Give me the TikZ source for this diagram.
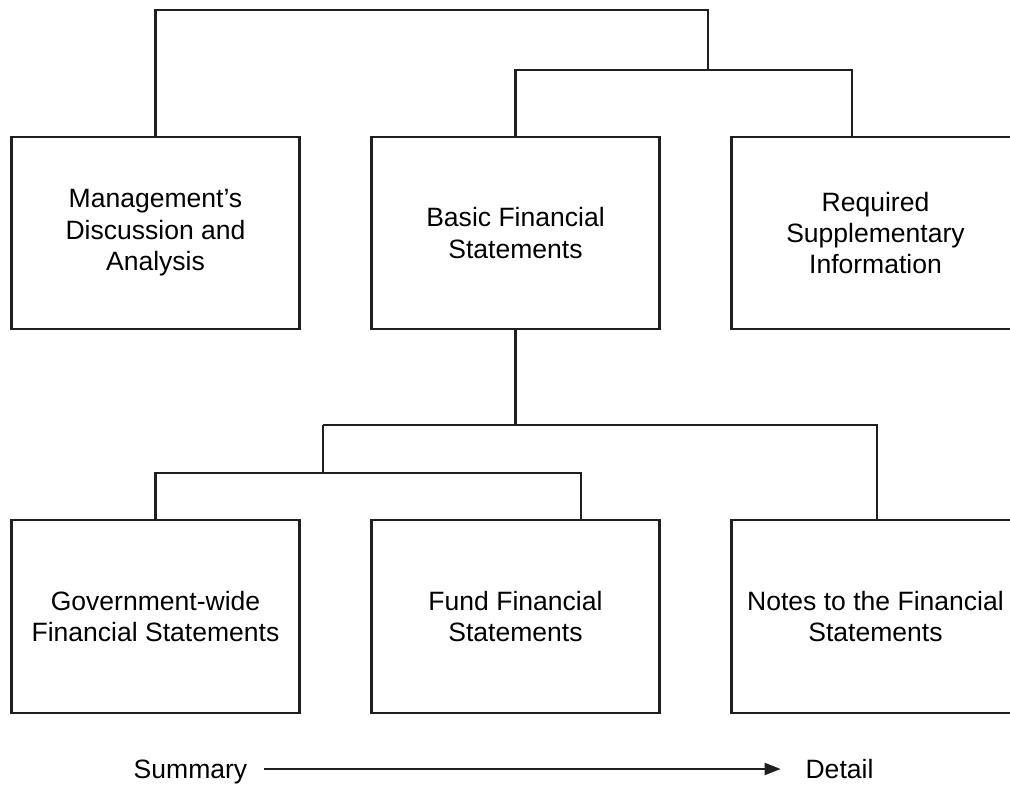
\documentclass[tikz,border=0pt]{standalone}
\usepackage{fontspec}
\setmainfont{Liberation Sans}
\usetikzlibrary{arrows.meta,positioning}

\begin{document}
\begin{tikzpicture}[x=0.75pt,y=-0.75pt,
    box/.style={draw=linecol,line width=1.6pt,minimum width=216pt,minimum height=144.5pt,
        align=center,inner sep=0pt,font=\fontsize{19.9}{23.6}\selectfont},
    link/.style={draw=linecol,line width=1.6pt},
    scalelabel/.style={font=\fontsize{19.9}{23.6}\selectfont,text height=14.25pt,text depth=0pt,inner sep=0pt}]
    \definecolor{linecol}{rgb}{0.12,0.12,0.12}
    \useasboundingbox (0,0) rectangle (1010,785);
    \clip (0,0) rectangle (1010,785);

    % upper row
    \node[box] (mda) at (155.5,233) {Management's\\Discussion and\\Analysis};
    \node[box] (bfs) at (515.5,233) {Basic Financial\\Statements};
    \node[box] (rsi) at (875.5,233) {Required\\Supplementary\\Information};

    % lower row
    \node[box] (gwfs) at (155.5,616.5) {Government-wide\\Financial Statements};
    \node[box] (ffs) at (515.5,616.5) {Fund Financial\\Statements};
    \node[box] (notes) at (875.5,616.5) {Notes to the Financial\\Statements};

    % junctions
    \coordinate (topbar) at (708,10);
    \coordinate (upper) at (708,70);
    \coordinate (rsiin) at (852,137);
    \coordinate (lower) at (515.5,425);
    \coordinate (left) at (323,425);
    \coordinate (leftbar) at (323,473);
    \coordinate (ffsin) at (581,520);
    \coordinate (notesin) at (877,520);

    \draw[link] (mda.north) |- (topbar) -- (upper);
    \draw[link] (bfs.north) |- (upper) -| (rsiin);
    \draw[link] (bfs.south) -- (lower);
    \draw[link] (left) -| (notesin);
    \draw[link] (left) -- (leftbar);
    \draw[link] (gwfs.north) |- (leftbar) -| (ffsin);

    % summary -> detail
    \node[scalelabel] (summary) at (190.5,769) {Summary};
    \node[scalelabel] (detail) at (839.5,769) {Detail};
    \draw[link,shorten <=12pt,shorten >=18.5pt,-{Triangle[length=12pt,width=9pt]}] (summary) -- (detail);
\end{tikzpicture}
\end{document}
